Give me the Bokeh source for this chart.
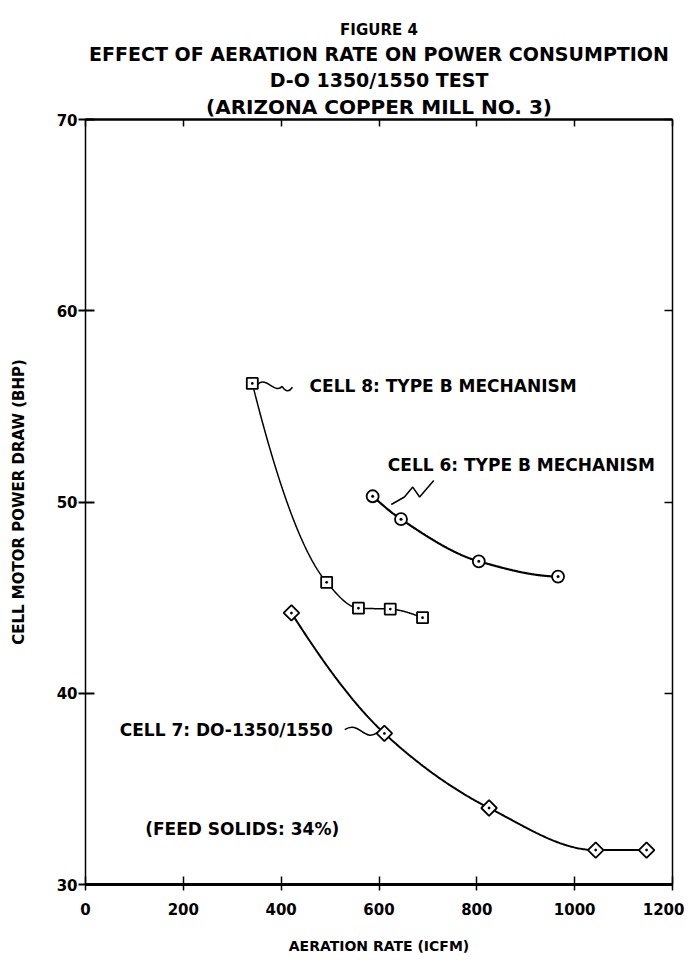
import numpy as np
from bokeh.plotting import figure
from bokeh.models import LinearAxis, FixedTicker, Label, Title, Range1d
from bokeh.embed import file_html
from bokeh.resources import INLINE

# ---------------- data ----------------
cell8_x = [341, 493, 558, 623, 689]
cell8_y = [56.2, 45.8, 44.45, 44.4, 43.95]

cell6_x = [587, 645, 804, 966]
cell6_y = [50.3, 49.1, 46.9, 46.1]

cell7_x = [421, 611, 825, 1043, 1147]
cell7_y = [44.2, 37.9, 34.0, 31.8, 31.8]

x_ticks = [0, 200, 400, 600, 800, 1000, 1200]
y_ticks = [30, 40, 50, 60, 70]

title_lines = ["FIGURE 4",
               "EFFECT OF AERATION RATE ON POWER CONSUMPTION",
               "D-O 1350/1550 TEST",
               "(ARIZONA COPPER MILL NO. 3)"]
x_label = "AERATION RATE (ICFM)"
y_label = "CELL MOTOR POWER DRAW (BHP)"
label8 = "CELL 8: TYPE B MECHANISM"
label6 = "CELL 6: TYPE B MECHANISM"
label7 = "CELL 7: DO-1350/1550"
label_feed = "(FEED SOLIDS: 34%)"

FONT = "DejaVu Sans"


def pchip(xs, ys, xn):
    xs = np.asarray(xs, float)
    ys = np.asarray(ys, float)
    n = len(xs)
    h = np.diff(xs)
    d = np.diff(ys) / h
    m = np.zeros(n)
    for k in range(1, n - 1):
        if d[k - 1] * d[k] > 0:
            w1 = 2 * h[k] + h[k - 1]
            w2 = h[k] + 2 * h[k - 1]
            m[k] = (w1 + w2) / (w1 / d[k - 1] + w2 / d[k])
        else:
            m[k] = 0.0

    def endslope(h0, h1, d0, d1):
        s = ((2 * h0 + h1) * d0 - h0 * d1) / (h0 + h1)
        if np.sign(s) != np.sign(d0):
            s = 0.0
        elif np.sign(d0) != np.sign(d1) and abs(s) > abs(3 * d0):
            s = 3 * d0
        return s

    if n > 2:
        m[0] = endslope(h[0], h[1], d[0], d[1])
        m[-1] = endslope(h[-1], h[-2], d[-1], d[-2])
    else:
        m[0] = m[-1] = d[0]
    xn = np.asarray(xn, float)
    idx = np.clip(np.searchsorted(xs, xn) - 1, 0, n - 2)
    t = (xn - xs[idx]) / h[idx]
    h00 = 2 * t**3 - 3 * t**2 + 1
    h10 = t**3 - 2 * t**2 + t
    h01 = -2 * t**3 + 3 * t**2
    h11 = t**3 - t**2
    return (h00 * ys[idx] + h10 * h[idx] * m[idx]
            + h01 * ys[idx + 1] + h11 * h[idx] * m[idx + 1])


p = figure(frame_width=587, frame_height=765,
           x_range=Range1d(0, 1200), y_range=Range1d(30, 70),
           output_backend="svg", toolbar_location=None,
           min_border_left=85, min_border_top=119,
           min_border_right=12, min_border_bottom=72,
           background_fill_color="white", border_fill_color="white")

p.xgrid.visible = False
p.ygrid.visible = False
p.outline_line_color = None

xa = p.below[0]
ya = p.left[0]

# top axis first (closest to the frame), then titles; its labels are not drawn
top = LinearAxis(ticker=FixedTicker(ticks=x_ticks), axis_line_width=2.5,
                 major_tick_in=7, major_tick_out=0, minor_tick_line_color=None,
                 major_tick_line_width=1.5,
                 major_label_text_font_size="6px", major_label_text_color=None,
                 major_label_standoff=0)
p.add_layout(top, "above")
right = LinearAxis(ticker=FixedTicker(ticks=y_ticks), axis_line_width=1.5,
                   major_tick_in=8, major_tick_out=0, minor_tick_line_color=None,
                   major_tick_line_width=1.5,
                   major_label_text_font_size="1px", major_label_text_color=None,
                   major_label_standoff=0)
p.add_layout(right, "right")

# titles: last added goes on top
sizes = [15, 19, 19, 20]
for i in range(len(title_lines) - 1, -1, -1):
    t = Title(text=title_lines[i], align="center",
              text_font=FONT, text_font_style="bold",
              text_font_size=f"{sizes[i]}px", text_color="black",
              standoff=2, offset=0)
    p.add_layout(t, "above")

# main axes
xa.ticker = FixedTicker(ticks=x_ticks)
xa.axis_line_width = 3
xa.major_tick_in = 8
xa.major_tick_out = 6
xa.minor_tick_line_color = None
xa.major_tick_line_width = 1.5
xa.major_label_standoff = 12
xa.major_label_text_font = FONT
xa.major_label_text_font_style = "bold"
xa.major_label_text_font_size = "15px"
xa.major_label_text_color = "black"
xa.axis_label = x_label
xa.axis_label_text_font = FONT
xa.axis_label_text_font_style = "bold"
xa.axis_label_text_font_size = "14px"
xa.axis_label_text_color = "black"
xa.axis_label_standoff = 20

ya.ticker = FixedTicker(ticks=y_ticks)
ya.axis_line_width = 1.5
ya.major_tick_in = 9
ya.major_tick_out = 7
ya.major_tick_line_width = 2
ya.minor_tick_line_color = None
ya.major_label_standoff = 1
ya.major_label_text_font = FONT
ya.major_label_text_font_style = "bold"
ya.major_label_text_font_size = "15px"
ya.major_label_text_color = "black"
ya.axis_label = y_label
ya.axis_label_text_font = FONT
ya.axis_label_text_font_style = "bold"
ya.axis_label_text_font_size = "15px"
ya.axis_label_text_color = "black"
ya.axis_label_standoff = 26

# smooth curves through the points
for xs, ys, lw in [(cell8_x, cell8_y, 1.5), (cell6_x, cell6_y, 2.2),
                   (cell7_x, cell7_y, 2.0)]:
    xx = np.linspace(xs[0], xs[-1], 300)
    p.line(xx, pchip(xs, ys, xx), line_color="black", line_width=lw)

p.scatter(cell8_x, cell8_y, marker="square_dot", size=11,
          fill_color="white", line_color="black", line_width=1.8)
p.scatter(cell6_x, cell6_y, marker="circle_dot", size=12,
          fill_color="white", line_color="black", line_width=1.8)
p.scatter(cell7_x, cell7_y, marker="square_dot", size=11, angle=np.pi / 4,
          fill_color="white", line_color="black", line_width=1.8)

# leader squiggles (annotation geometry, data units)
p.bezier(x0=[352, 402], y0=[56.15, 56.05], x1=[402, 423], y1=[56.05, 56.0],
         cx0=[370, 410], cy0=[56.6, 55.7], cx1=[388, 418], cy1=[55.6, 55.8],
         line_color="black", line_width=1.5)
sq6_x = [712, 683, 669, 652, 625]
sq6_y = [51.13, 50.26, 50.78, 50.26, 49.87]
p.line(sq6_x, sq6_y, line_color="black", line_width=1.5)
p.bezier(x0=[530], y0=[38.1], x1=[597], y1=[37.95],
         cx0=[560], cy0=[38.6], cx1=[570], cy1=[37.4],
         line_color="black", line_width=1.5)

for txt, x, y in [(label8, 458, 56.05), (label6, 618, 51.95),
                  (label7, 70, 38.1), (label_feed, 122, 32.9)]:
    p.add_layout(Label(x=x, y=y, text=txt, text_font=FONT,
                       text_font_style="bold", text_font_size="17px",
                       text_baseline="middle", text_align="left",
                       text_color="black"))

open("out.html", "w").write(file_html(p, INLINE))
